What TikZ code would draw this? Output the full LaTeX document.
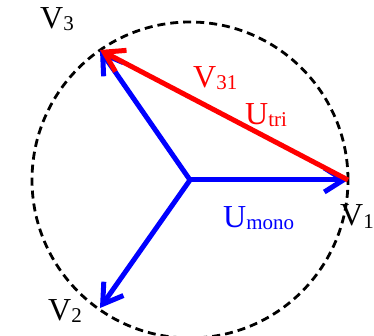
\documentclass[tikz,border=0pt]{standalone}
\usepackage{fontspec}
\setmainfont{Liberation Serif}
\usetikzlibrary{arrows.meta}
\newcommand\mysub[1]{\raisebox{-2pt}{\fontsize{21}{21}\selectfont #1}}
\begin{document}
\begin{tikzpicture}[x=1pt,y=-1pt,
  vec/.style={line width=5pt,-{Straight Barb[length=19pt,width=24pt]}},
  lbl/.style={anchor=base west,inner sep=0pt,font=\fontsize{32}{32}\selectfont},
  ring/.style={circle,draw,line width=2.8pt,dash pattern=on 8pt off 5pt,minimum size=316pt,inner sep=0pt}
]
\useasboundingbox (0,0) rectangle (374,336);
\coordinate (O) at (190,180);
\coordinate (V1) at (348,180);
\coordinate (V2) at (100,308);
\coordinate (V3) at (100,50);
\node[lbl] (l3) at (40,29) {V\mysub{3}};
\node[lbl,red] (l31) at (193,88) {V\mysub{31}};
\node[lbl,red] (lt) at (245,125) {U\mysub{tri}};
\node[lbl,blue] (lm) at (223,228) {U\mysub{mono}};
\node[lbl] (l1) at (340,226) {V\mysub{1}};
\node[lbl] (l2) at (48,320) {V\mysub{2}};
\node[ring] (circ) at (O) {};
\draw[vec,blue] (O) -- (V1);
\draw[vec,blue] (O) -- (V2);
\draw[vec,blue] (O) -- (V3);
\draw[vec,red] (V1) -- (V3);
\end{tikzpicture}
\end{document}
